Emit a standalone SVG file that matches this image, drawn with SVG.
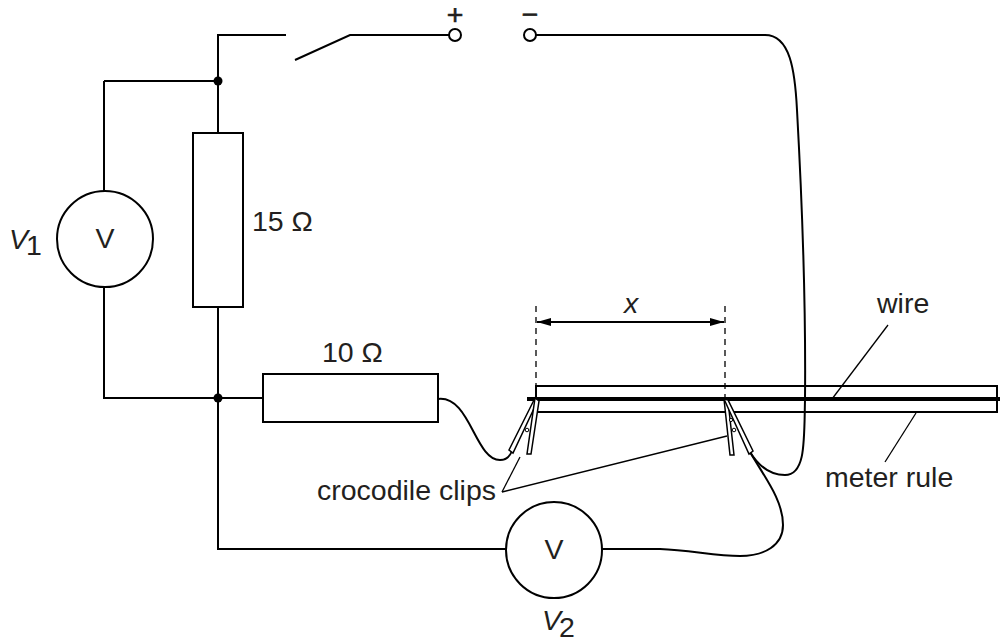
<svg xmlns="http://www.w3.org/2000/svg" width="1000" height="642" viewBox="0 0 1000 642">
<style>
.w{fill:none;stroke:#000;stroke-width:2}
.t{font-family:"Liberation Sans",Arial,sans-serif;font-size:28.5px;fill:#231f20}
.thin{fill:none;stroke:#000;stroke-width:1.3}
.dash{fill:none;stroke:#000;stroke-width:1.3;stroke-dasharray:6,5}
</style>
<defs>
<marker id="ah" viewBox="0 0 10 10" refX="10" refY="5" markerWidth="14" markerHeight="8" markerUnits="userSpaceOnUse" orient="auto-start-reverse" preserveAspectRatio="none">
<path d="M0,0 L10,5 L0,10 Z" fill="#000"/>
</marker>
</defs>
<rect width="1000" height="642" fill="#fff"/>
<g id="connectors">
<path class="w" d="M218 398 V81 M218 81 V35 H286"/>
<path class="w" d="M295 60 L350 35 H449"/>
<path class="w" d="M536 35 H765 C790 35 795 70 797 110 C802 200 806 300 805 400 C804 440 806 475 785 475 C770 475 758 465 750 452"/>
<path class="w" d="M104 81 H218"/>
<path class="w" d="M104 81 V191 M104 287 V398 H263"/>
<path class="w" d="M218 307 V398"/>
<path class="w" d="M218 398 V549 H506"/>
<path class="w" d="M602 549 H660 C690 550 715 556 740 556 C765 556 783 545 783 525 C783 500 765 478 750 452"/>
<path class="w" d="M438 399 C470 395 475 460 500 460 C507 460 510 456 512 451"/>
<circle cx="218" cy="81" r="4.5" fill="#000"/>
<circle cx="218" cy="398" r="4.5" fill="#000"/>
</g>
<g id="terminal-plus">
<circle cx="455" cy="35" r="6" fill="#fff" stroke="#000" stroke-width="2"/>
<text class="t" x="455" y="24" text-anchor="middle" font-size="21" stroke="#231f20" stroke-width="0.6">+</text>
</g>
<g id="terminal-minus">
<circle cx="530" cy="35" r="6" fill="#fff" stroke="#000" stroke-width="2"/>
<text class="t" x="530" y="24" text-anchor="middle" font-size="21" stroke="#231f20" stroke-width="0.6">−</text>
</g>
<g id="voltmeter-v1">
<circle cx="105" cy="239" r="48" fill="#fff" stroke="#000" stroke-width="2"/>
<text class="t" x="105" y="248" text-anchor="middle" font-size="26">V</text>
<text class="t" x="9" y="249" font-size="27" font-style="italic">V</text>
<text class="t" x="26" y="255" font-size="18">1</text>
</g>
<g id="resistor-15">
<rect x="193" y="133" width="50" height="174" fill="#fff" stroke="#000" stroke-width="2"/>
<text class="t" x="252" y="231">15 Ω</text>
</g>
<g id="resistor-10">
<rect x="263" y="374" width="175" height="48" fill="#fff" stroke="#000" stroke-width="2"/>
<text class="t" x="322" y="362">10 Ω</text>
</g>
<g id="meter-rule">
<rect x="536" y="386" width="461" height="26" fill="none" stroke="#000" stroke-width="2"/>
<line x1="527" y1="399" x2="1000" y2="399" stroke="#000" stroke-width="4"/>
</g>
<g id="length-x">
<line class="dash" x1="536" y1="306" x2="536" y2="386"/>
<line class="dash" x1="725" y1="306" x2="725" y2="399"/>
<line x1="537" y1="322" x2="724" y2="322" stroke="#000" stroke-width="2" marker-start="url(#ah)" marker-end="url(#ah)"/>
<text class="t" x="631" y="313" text-anchor="middle" font-style="italic">x</text>
</g>
<g id="clip-1">
<path d="M535 398 L509 450 L513 453 L538 400 Z" fill="#fff" stroke="#000" stroke-width="1.5"/>
<path d="M535 398 L527 454 L531 454 L539 401 Z" fill="#fff" stroke="#000" stroke-width="1.5"/>
<circle cx="527" cy="430" r="1.8" fill="#fff" stroke="#000" stroke-width="1"/>
</g>
<g id="clip-2">
<path d="M724 399 L730 455 L734 455 L728 401 Z" fill="#fff" stroke="#000" stroke-width="1.5"/>
<path d="M724 399 L749 454 L753 451 L728 400 Z" fill="#fff" stroke="#000" stroke-width="1.5"/>
<circle cx="731" cy="420" r="1.6" fill="#fff" stroke="#000" stroke-width="1"/>
<circle cx="734" cy="430" r="1.8" fill="#fff" stroke="#000" stroke-width="1"/>
</g>
<g id="voltmeter-v2">
<circle cx="554" cy="550" r="48" fill="#fff" stroke="#000" stroke-width="2"/>
<text class="t" x="554" y="559" text-anchor="middle" font-size="26">V</text>
<text class="t" x="542" y="630" font-size="27" font-style="italic">V</text>
<text class="t" x="559" y="637" font-size="18">2</text>
</g>
<g id="labels">
<text class="t" x="877" y="313">wire</text>
<line class="thin" x1="888" y1="325" x2="832" y2="399"/>
<text class="t" x="825" y="487">meter rule</text>
<line class="thin" x1="916" y1="413" x2="885" y2="462"/>
<text class="t" x="317" y="500">crocodile clips</text>
<line class="thin" x1="502" y1="492" x2="520" y2="457"/>
<line class="thin" x1="502" y1="492" x2="727" y2="436"/>
</g>
</svg>
